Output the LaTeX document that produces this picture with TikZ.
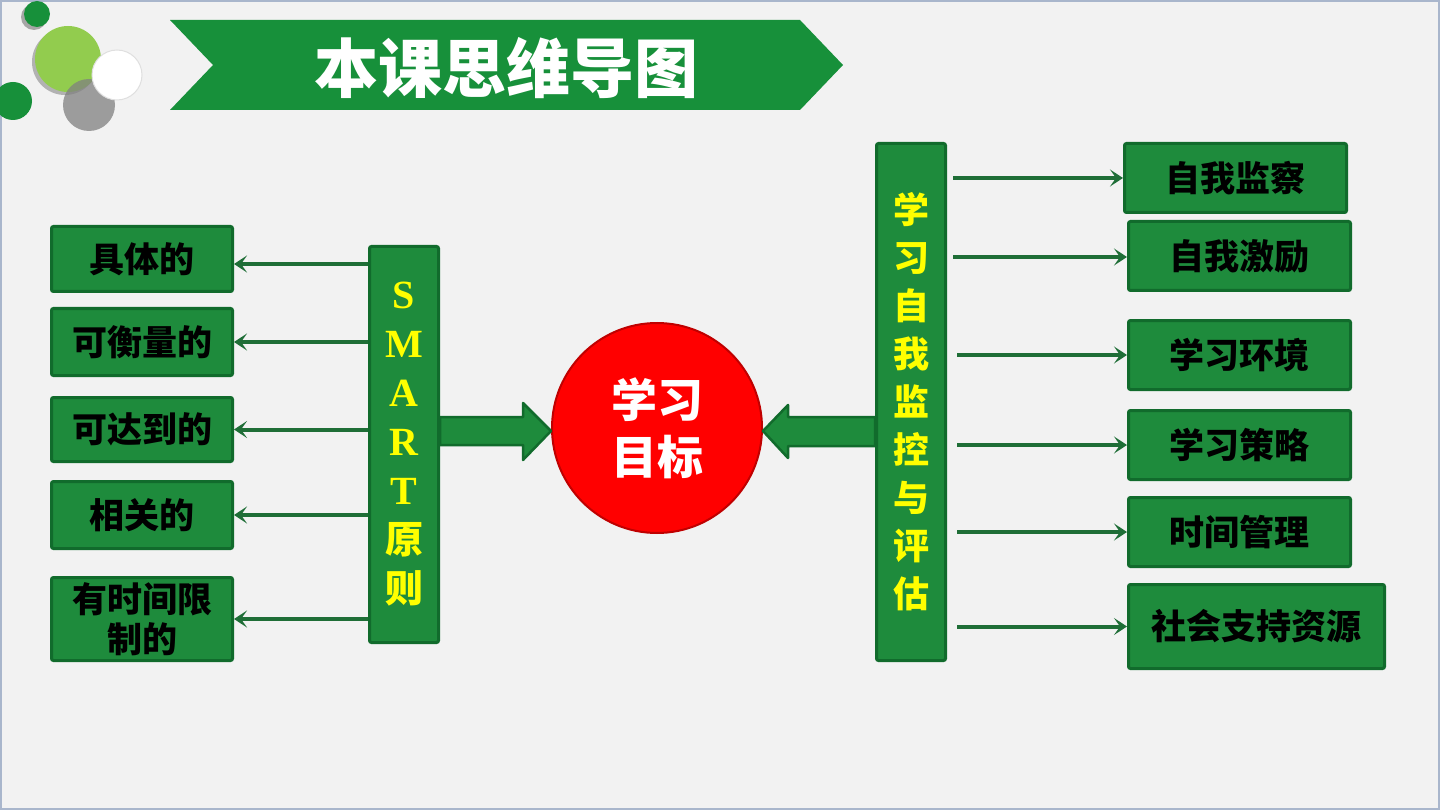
\documentclass[tikz,border=0pt]{standalone}
\usepackage{fontspec}
\setmainfont{Noto Sans CJK SC}
\newfontfamily\cjk{Noto Sans CJK SC}
\newfontfamily\latinserif{Liberation Serif}
\usetikzlibrary{arrows.meta,calc}
\definecolor{bg}{HTML}{F2F2F2}
\definecolor{frame}{HTML}{A9B6CC}
\definecolor{boxg}{HTML}{1E8B3C}
\definecolor{boxd}{HTML}{116B2C}
\definecolor{bang}{HTML}{17903A}
\definecolor{arrg}{HTML}{1F6E37}
\definecolor{lgreen}{HTML}{92CC4E}
\definecolor{dgreen}{HTML}{17903A}
\definecolor{ring}{HTML}{FF0000}
\definecolor{ringd}{HTML}{C00000}
\definecolor{yel}{HTML}{FFFF00}
\newcommand{\cjkb}[1]{{\fontsize{38}{49}\selectfont\cjk\bfseries #1}}
\tikzset{
  gbox/.style={draw=boxd, fill=boxg, line width=3pt, rounded corners=2pt, inner sep=0pt, anchor=north west, align=center, text=black, font=\fontsize{35}{40}\selectfont\bfseries\cjk},
  vbox/.style={draw=boxd, fill=boxg, line width=3pt, rounded corners=2pt, inner sep=0pt, anchor=north west, align=center, text=yel},
  thinarr/.style={draw=arrg, line width=4pt, -{Stealth[length=13pt,width=17pt,inset=6pt]}},
  bigarr/.style={draw=boxd, fill=boxg, line width=2.5pt, line join=round},
}
\begin{document}
\begin{tikzpicture}[x=1pt,y=-1pt]
\useasboundingbox (0,0) rectangle (1440,810);
\fill[bg] (0,0) rectangle (1440,810);
\draw[frame, line width=2pt] (1,1) rectangle (1439,809);
% decorative circles
\fill[gray!70] (34,17) circle (13);
\fill[dgreen] (37,14) circle (13);
\fill[gray!60] (65,62) circle (33);
\fill[lgreen] (68,59) circle (33);
\fill[dgreen] (13,101) circle (19);
\fill[gray, opacity=0.75] (89,105) circle (26);
\draw[gray!25, line width=1pt, fill=white] (117,75) circle (25);
% title banner
\fill[bang] (170,20) -- (800,20) -- (843,65) -- (800,110) -- (170,110) -- (213,65) -- cycle;
\node[text=white, font=\fontsize{64}{64}\selectfont\bfseries\cjk] (title) at (506,68) {本课思维导图};
% centre circle
\node[circle, draw=ringd, fill=ring, line width=2pt, minimum size=210pt, inner sep=0pt, align=center, text=white, font=\fontsize{46}{57}\selectfont\bfseries\cjk] (circ) at (657,428) {学习\\目标};
% SMART box
\node[vbox, minimum width=69pt, minimum height=396pt, font=\fontsize{40}{49}\selectfont\latinserif\bfseries] (smart) at (368,245) {S\\M\\A\\R\\T\\\cjkb{原}\\\cjkb{则}};
% right vertical box
\node[vbox, minimum width=69pt, minimum height=517pt, font=\fontsize{36}{48}\selectfont\bfseries\cjk] (rv) at (875,142) {学\\习\\自\\我\\监\\控\\与\\评\\估};
% left boxes
\node[gbox, minimum width=181pt, minimum height=65pt] (l1) at (50,225) {具体的};
\node[gbox, minimum width=181pt, minimum height=67pt] (l2) at (50,307) {可衡量的};
\node[gbox, minimum width=181pt, minimum height=64pt] (l3) at (50,396) {可达到的};
\node[gbox, minimum width=181pt, minimum height=67pt] (l4) at (50,480) {相关的};
\node[gbox, minimum width=181pt, minimum height=83pt] (l5) at (50,576) {有时间限\\制的};
% right boxes
\node[gbox, minimum width=222pt, minimum height=69pt] (r1) at (1123,142) {自我监察};
\node[gbox, minimum width=222pt, minimum height=69pt] (r2) at (1127,220) {自我激励};
\node[gbox, minimum width=222pt, minimum height=69pt] (r3) at (1127,319) {学习环境};
\node[gbox, minimum width=222pt, minimum height=69pt] (r4) at (1127,409) {学习策略};
\node[gbox, minimum width=222pt, minimum height=69pt] (r5) at (1127,496) {时间管理};
\node[gbox, minimum width=256pt, minimum height=84pt] (r6) at (1127,583) {社会支持资源};
% left thin arrows
\draw[thinarr] (smart.west |- 0,264) -- (l1.east |- 0,264);
\foreach \b in {l2,l3,l4,l5} \draw[thinarr] (smart.west |- \b.east) -- (\b.east);
% right thin arrows
\draw[thinarr] ([xshift=6pt]rv.east |- r1.west) -- (r1.west);
\draw[thinarr] ([xshift=6pt]rv.east |- 0,257) -- (r2.west |- 0,257);
\foreach \b in {r3,r4,r5,r6} \draw[thinarr] ([xshift=10pt]rv.east |- \b.west) -- (\b.west);
% big arrows
\draw[bigarr] (smart.east |- 0,417) -- (523,417) -- (523,403) -- (circ.west |- 0,431) -- (523,460) -- (523,445) -- (smart.east |- 0,445) -- cycle;
\draw[bigarr] (rv.west |- 0,417) -- (788,417) -- (788,405) -- (circ.east |- 0,431) -- (788,458) -- (788,446) -- (rv.west |- 0,446) -- cycle;
\end{tikzpicture}
\end{document}
